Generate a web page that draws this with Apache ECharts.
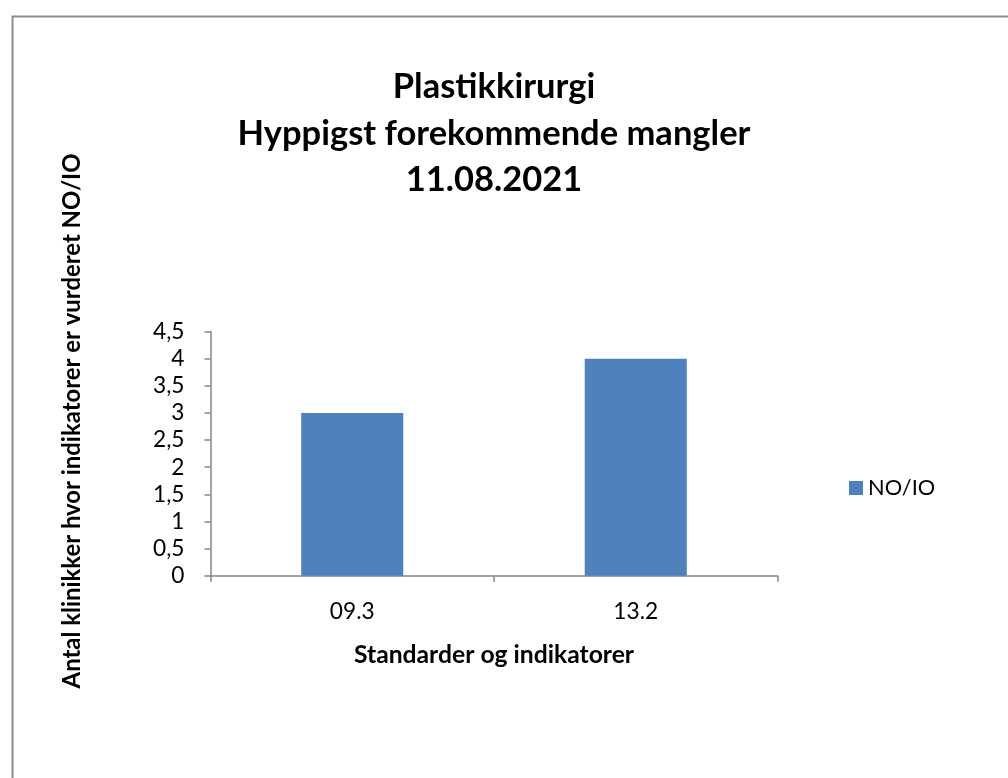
<!DOCTYPE html>
<html>
<head>
<meta charset="utf-8">
<script src="https://cdn.jsdelivr.net/npm/echarts@6/dist/echarts.min.js"></script>
<style>
html,body{margin:0;padding:0;background:#fff;}
#chart{width:1008px;height:778px;}
</style>
</head>
<body>
<div id="chart"></div>
<script>
const titleLines = ['Plastikkirurgi', 'Hyppigst forekommende mangler', '11.08.2021'];
const categories = ['09.3', '13.2'];
const seriesName = 'NO/IO';
const values = [3, 4];
const yMin = 0, yMax = 4.5, yInterval = 0.5;
const xAxisName = 'Standarder og indikatorer';
const yAxisName = 'Antal klinikker hvor indikatorer er vurderet NO/IO';

const FONT = 'Lato, "Open Sans", sans-serif';
const chart = echarts.init(document.getElementById('chart'), null, {renderer: 'canvas'});
chart.setOption({
  backgroundColor: '#ffffff',
  animation: false,
  title: {
    text: titleLines.join('\n'),
    left: 489, top: 59, textAlign: 'center',
    textStyle: {fontFamily: FONT, fontSize: 34.5, fontWeight: 'bold', color: '#000', lineHeight: 46.5}
  },
  legend: {
    data: [seriesName], left: 844, top: 472, orient: 'vertical',
    icon: 'rect', itemWidth: 14, itemHeight: 14, itemGap: 8,
    textStyle: {fontFamily: FONT, fontSize: 21.8, color: '#000'}
  },
  grid: {left: 210.5, right: 230.5, top: 331.6, bottom: 202.3, containLabel: false},
  xAxis: {
    type: 'category', data: categories,
    name: xAxisName, nameLocation: 'middle', nameGap: 67,
    nameTextStyle: {fontFamily: FONT, fontSize: 24.7, fontWeight: 'bold', color: '#000'},
    axisLine: {lineStyle: {color: '#868686', width: 1.5}},
    axisTick: {show: true, length: 6, alignWithLabel: false, lineStyle: {color: '#868686', width: 1.5}},
    axisLabel: {fontFamily: FONT, fontSize: 22.7, color: '#000', margin: 24}
  },
  yAxis: {
    type: 'value', min: yMin, max: yMax, interval: yInterval,
    axisLine: {show: true, lineStyle: {color: '#868686', width: 1.5}},
    axisTick: {show: true, length: 6, lineStyle: {color: '#868686', width: 1.5}},
    splitLine: {show: false},
    axisLabel: {fontFamily: FONT, fontSize: 22.7, color: '#000', margin: 26,
      formatter: v => String(v).replace('.', ',')}
  },
  series: [{
    name: seriesName, type: 'bar', data: values, barWidth: '36%',
    itemStyle: {color: '#4f81bd'}
  }],
  graphic: [
    {type: 'rect', left: 10, top: 14, shape: {width: 1100, height: 900},
     style: {fill: null, stroke: '#8c8c8c', lineWidth: 2}, silent: true, z: -1},
    {type: 'text', x: 72, y: 421, rotation: Math.PI / 2,
     style: {text: yAxisName, fontFamily: FONT, fontSize: 23.9, fontWeight: 'bold', fill: '#000',
       align: 'center', verticalAlign: 'middle'}}
  ]
});
</script>
</body>
</html>
